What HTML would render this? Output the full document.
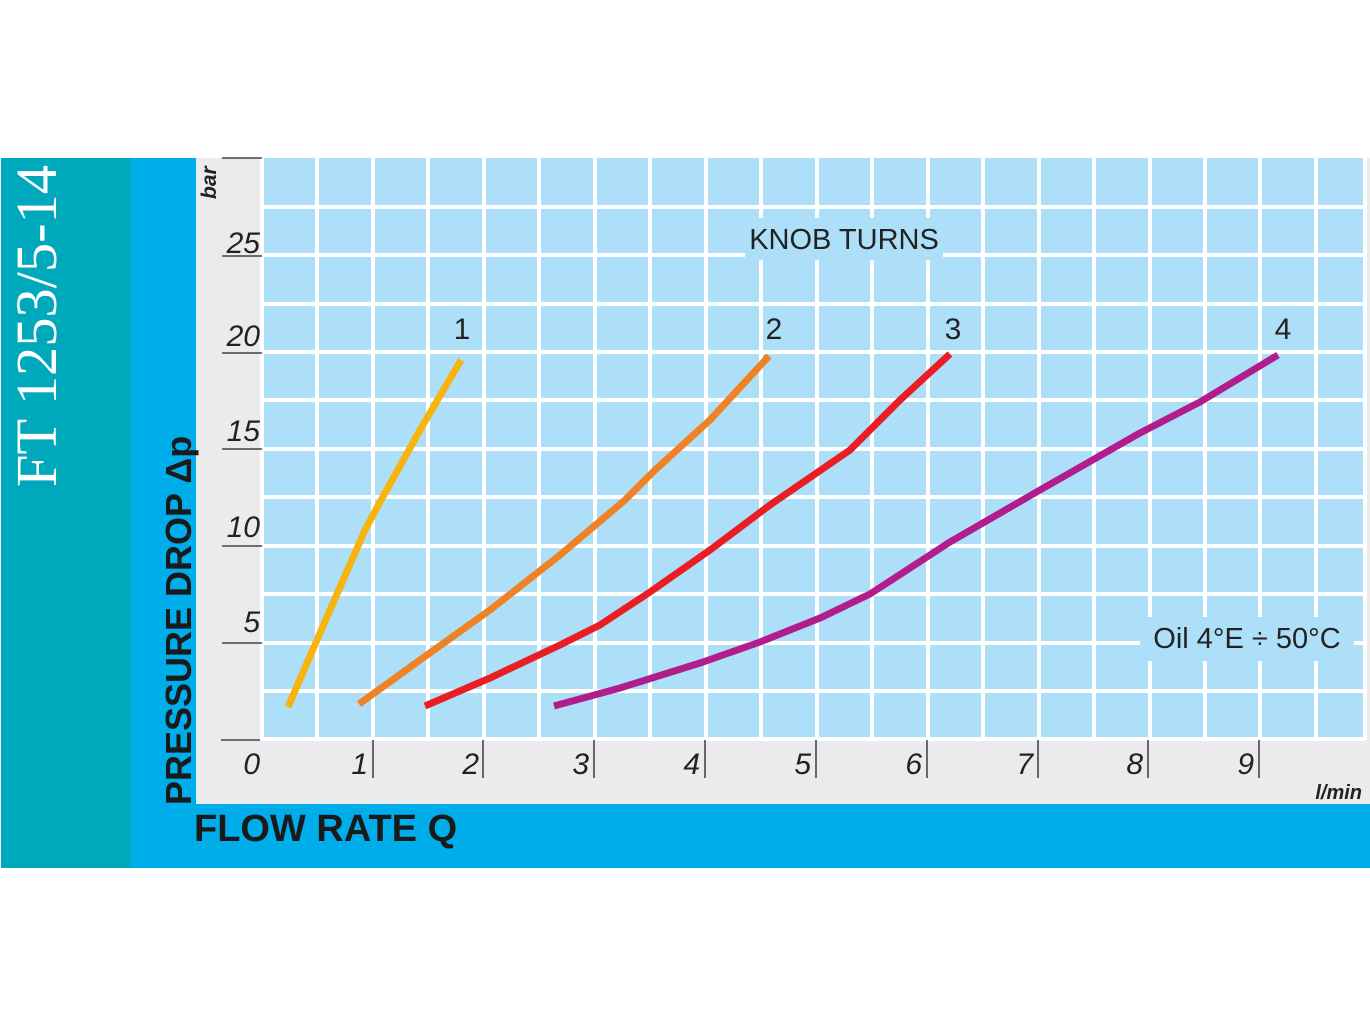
<!DOCTYPE html>
<html><head><style>
html,body{margin:0;padding:0;background:#fff;width:1370px;height:1027px;overflow:hidden}
</style></head><body>
<svg width="1370" height="1027" xmlns="http://www.w3.org/2000/svg" font-family="Liberation Sans, sans-serif">
<rect x="0" y="0" width="1370" height="1027" fill="#fff"/>
<rect x="1" y="158" width="131" height="710" fill="#00a8bc"/>
<rect x="131" y="158" width="1239" height="710" fill="#00adeb"/>
<rect x="196" y="158" width="1174" height="646" fill="#ebebed"/>
<rect x="262" y="158" width="1103" height="582" fill="#ade0f8"/>
<g stroke="#fff" stroke-width="4">
<line x1="262" y1="207" x2="1365" y2="207"/><line x1="262" y1="255" x2="1365" y2="255"/><line x1="262" y1="304" x2="1365" y2="304"/><line x1="262" y1="352" x2="1365" y2="352"/><line x1="262" y1="400" x2="1365" y2="400"/><line x1="262" y1="449" x2="1365" y2="449"/><line x1="262" y1="497" x2="1365" y2="497"/><line x1="262" y1="546" x2="1365" y2="546"/><line x1="262" y1="594" x2="1365" y2="594"/><line x1="262" y1="643" x2="1365" y2="643"/><line x1="262" y1="691" x2="1365" y2="691"/><line x1="262" y1="739" x2="1365" y2="739"/>
<line x1="262" y1="158" x2="262" y2="740"/><line x1="317" y1="158" x2="317" y2="740"/><line x1="373" y1="158" x2="373" y2="740"/><line x1="428" y1="158" x2="428" y2="740"/><line x1="484" y1="158" x2="484" y2="740"/><line x1="539" y1="158" x2="539" y2="740"/><line x1="595" y1="158" x2="595" y2="740"/><line x1="650" y1="158" x2="650" y2="740"/><line x1="706" y1="158" x2="706" y2="740"/><line x1="761" y1="158" x2="761" y2="740"/><line x1="817" y1="158" x2="817" y2="740"/><line x1="872" y1="158" x2="872" y2="740"/><line x1="928" y1="158" x2="928" y2="740"/><line x1="983" y1="158" x2="983" y2="740"/><line x1="1039" y1="158" x2="1039" y2="740"/><line x1="1094" y1="158" x2="1094" y2="740"/><line x1="1150" y1="158" x2="1150" y2="740"/><line x1="1205" y1="158" x2="1205" y2="740"/><line x1="1260" y1="158" x2="1260" y2="740"/><line x1="1316" y1="158" x2="1316" y2="740"/><line x1="1365" y1="158" x2="1365" y2="740"/>
</g>
<g stroke="#222" stroke-width="1.3">
<line x1="222" y1="158" x2="262" y2="158"/><line x1="222" y1="256" x2="262" y2="256"/><line x1="222" y1="353" x2="262" y2="353"/><line x1="222" y1="449" x2="262" y2="449"/><line x1="222" y1="546" x2="262" y2="546"/><line x1="222" y1="643" x2="262" y2="643"/><line x1="221" y1="740" x2="260" y2="740"/>
<line x1="373" y1="740" x2="373" y2="778"/><line x1="483" y1="740" x2="483" y2="778"/><line x1="594" y1="740" x2="594" y2="778"/><line x1="705" y1="740" x2="705" y2="778"/><line x1="816" y1="740" x2="816" y2="778"/><line x1="927" y1="740" x2="927" y2="778"/><line x1="1038" y1="740" x2="1038" y2="778"/><line x1="1148" y1="740" x2="1148" y2="778"/><line x1="1259" y1="740" x2="1259" y2="778"/>
</g>
<g font-style="italic" font-size="30" fill="#222" text-anchor="end">
<text x="260" y="253">25</text><text x="260" y="346">20</text><text x="260" y="441">15</text><text x="260" y="537">10</text><text x="260" y="632">5</text>
<text x="260" y="774">0</text><text x="368" y="774">1</text><text x="479" y="774">2</text><text x="589" y="774">3</text><text x="700" y="774">4</text><text x="811" y="774">5</text><text x="922" y="774">6</text><text x="1033" y="774">7</text><text x="1143" y="774">8</text><text x="1254" y="774">9</text>
</g>
<text x="1362" y="799" font-style="italic" font-weight="bold" font-size="20" fill="#222" text-anchor="end">l/min</text>
<text transform="translate(216,199) rotate(-90)" font-style="italic" font-weight="bold" font-size="21" fill="#222">bar</text>
<text transform="translate(56,487) rotate(-90)" font-family="Liberation Serif, serif" font-size="58" fill="#fff" textLength="322" lengthAdjust="spacingAndGlyphs">FT 1253/5-14</text>
<text transform="translate(191,805) rotate(-90)" font-weight="bold" font-size="36" fill="#1a1a1a">PRESSURE DROP Δp</text>
<text x="194" y="841" font-weight="bold" font-size="38" fill="#1a1a1a">FLOW RATE Q</text>
<rect x="745" y="218" width="198" height="42" fill="#ade0f8"/>
<text x="844" y="249" font-size="29" fill="#222" text-anchor="middle">KNOB TURNS</text>
<rect x="1140" y="617" width="214" height="44" fill="#ade0f8"/>
<text x="1247" y="648" font-size="29" fill="#222" text-anchor="middle">Oil 4°E ÷ 50°C</text>
<g font-size="30" fill="#222" text-anchor="middle">
<text x="462" y="339">1</text><text x="774" y="339">2</text><text x="953" y="339">3</text><text x="1283" y="339">4</text>
</g>
<g fill="none" stroke-width="7">
<polyline stroke="#f7b40f" points="288,707 330,610 365,530 380,502 420,430 461,360"/>
<polyline stroke="#f08125" points="359,704 420,660 490,610 560,555 625,500 655,470 710,420 769,356"/>
<polyline stroke="#ea1d24" points="425,706 490,678 560,645 600,625 650,592 710,550 770,505 850,450 900,400 950,354"/>
<polyline stroke="#b21d8e" points="554,706 620,688 700,663 760,642 820,618 870,594 950,542 1040,490 1140,433 1200,402 1278,355"/>
</g>
</svg>
</body></html>
